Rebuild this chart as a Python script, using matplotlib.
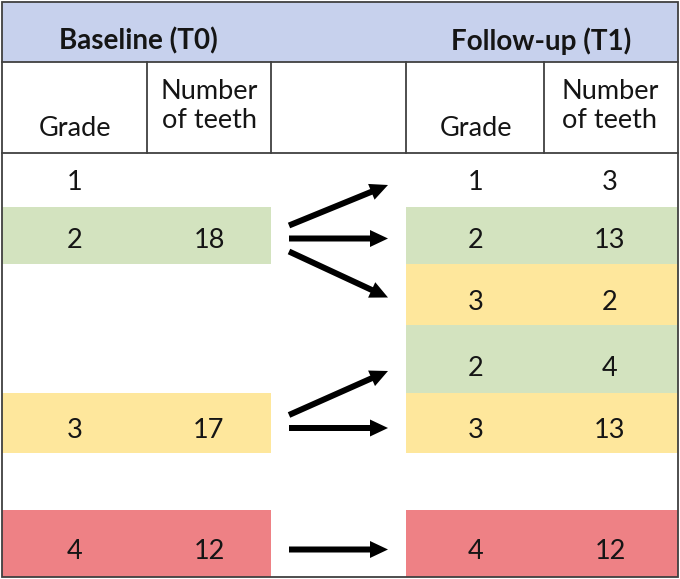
import matplotlib
matplotlib.use("Agg")
import matplotlib.pyplot as plt
from matplotlib.patches import Rectangle

# ---------------- data ----------------
headers = ["Baseline (T0)", "Follow-up (T1)"]
col_labels = ["Grade", "Number\nof teeth"]
baseline_grades = ["1", "2", "3", "4"]
baseline_counts = ["", "18", "17", "12"]
followup_grades = ["1", "2", "3", "2", "3", "4"]
followup_counts = ["3", "13", "2", "4", "13", "12"]
# transitions: (baseline index, follow-up index)
transitions = [(1, 0), (1, 1), (1, 2), (2, 3), (2, 4), (3, 5)]

# ---------------- layout (pixel-like coordinates) ----------------
W, H = 680, 579
grade_colors = {"1": None, "2": "#D3E3BF", "3": "#FEE79C", "4": "#EE8185"}
row_edges = [155, 207, 264, 325, 393, 453, 510, 577]
row_text_dy = [1, 5, 8, 9, 7, 0, 8]
baseline_rows = [0, 1, 4, 6]
followup_rows = [0, 1, 2, 3, 4, 6]
left_x = (2, 271)
right_x = (406, 678)
col_x_left = [75, 209]
col_x_right = [476, 610]
line_col = "#404040"
FS = 19.5
TXT = "#151515"

plt.rcParams['font.family'] = ['Lato', 'DejaVu Sans']
fig = plt.figure(figsize=(6.8, 5.79), dpi=100)
ax = fig.add_axes([0, 0, 1, 1])
ax.set_xlim(0, W)
ax.set_ylim(H, 0)
ax.axis("off")

# header band
ax.add_patch(Rectangle((2, 2), W - 4, 60, facecolor="#C7D1ED", edgecolor="none"))
ax.text(138, 41, headers[0], ha="center", va="center", fontsize=20, fontweight="bold", color=TXT)
ax.text(541, 41, headers[1], ha="center", va="center", fontsize=20, fontweight="bold", color=TXT)

# sub-header
ax.text(col_x_left[0], 128, col_labels[0], ha="center", va="center", fontsize=FS, color=TXT)
ax.text(col_x_left[1], 106, col_labels[1], ha="center", va="center", fontsize=FS, color=TXT, linespacing=1.2)
ax.text(col_x_right[0], 128, col_labels[0], ha="center", va="center", fontsize=FS, color=TXT)
ax.text(col_x_right[1], 106, col_labels[1], ha="center", va="center", fontsize=FS, color=TXT, linespacing=1.2)

def text_y(r):
    return (row_edges[r] + row_edges[r + 1]) / 2 + row_text_dy[r]

# baseline rows
for g, c, r in zip(baseline_grades, baseline_counts, baseline_rows):
    col = grade_colors[g]
    if col:
        ax.add_patch(Rectangle((left_x[0], row_edges[r]), left_x[1] - left_x[0],
                               row_edges[r + 1] - row_edges[r], facecolor=col, edgecolor="none"))
    y = text_y(r)
    ax.text(col_x_left[0], y, g, ha="center", va="center", fontsize=FS, color=TXT)
    ax.text(col_x_left[1], y, c, ha="center", va="center", fontsize=FS, color=TXT)

# follow-up rows
for g, c, r in zip(followup_grades, followup_counts, followup_rows):
    col = grade_colors[g]
    if col:
        ax.add_patch(Rectangle((right_x[0], row_edges[r]), right_x[1] - right_x[0],
                               row_edges[r + 1] - row_edges[r], facecolor=col, edgecolor="none"))
    y = text_y(r)
    ax.text(col_x_right[0], y, g, ha="center", va="center", fontsize=FS, color=TXT)
    ax.text(col_x_right[1], y, c, ha="center", va="center", fontsize=FS, color=TXT)

# arrows
for s, t in transitions:
    ys = text_y(baseline_rows[s]) - 2
    yt = text_y(followup_rows[t]) - 2
    d = yt - ys
    if d < 0:
        y0 = ys - 13
        y1 = yt + 5
    elif d > 0:
        y0 = ys + 13
        y1 = yt - 3
    else:
        y0 = y1 = ys
    x0, x1 = 289, 388
    ax.arrow(x0, y0, x1 - x0, y1 - y0, width=6, head_width=17, head_length=18,
             length_includes_head=True, color="black", lw=0)

# lines
ax.plot([2, 678], [62, 62], color=line_col, lw=1.3)
ax.plot([2, 678], [153, 153], color=line_col, lw=1.3)
for x in [147, 271, 406, 544]:
    ax.plot([x, x], [62, 153], color=line_col, lw=1.3)
ax.add_patch(Rectangle((2, 2), W - 4, H - 4, facecolor="none", edgecolor=line_col, lw=1.3))

fig.savefig("out.png", dpi=100)
